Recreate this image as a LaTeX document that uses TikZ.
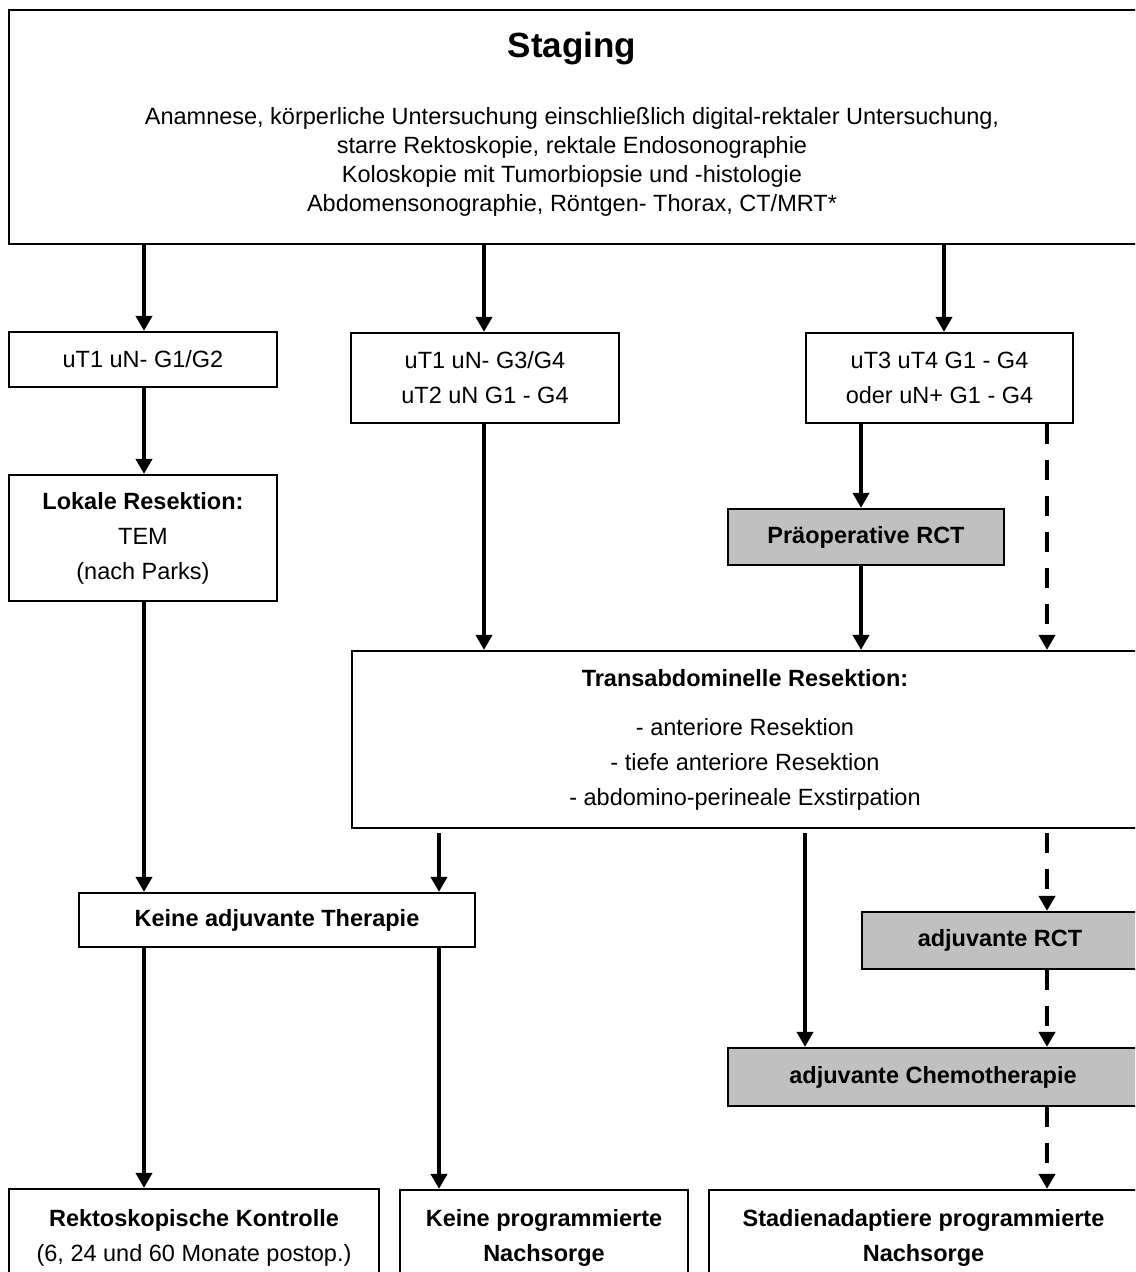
\documentclass[tikz,border=0pt]{standalone}
\usepackage{fontspec}
\setmainfont{Liberation Sans}
\usetikzlibrary{arrows.meta}
\definecolor{boxgrey}{RGB}{192,192,192}

\begin{document}
\begin{tikzpicture}[x=0.5pt, y=-0.5pt,
        font=\fontsize{11.75}{17.5}\selectfont,
        box/.style={draw, line width=1.1pt, align=center, inner sep=0pt},
        greybox/.style={box, fill=boxgrey, font=\fontsize{11.75}{17.5}\selectfont\bfseries},
        arr/.style={line width=2.2pt, -{Triangle[width=8pt,length=7.5pt]}},
        darr/.style={arr, dash pattern=on 10pt off 8pt}]
                \useasboundingbox (0,0) rectangle (1135,1272);
                \clip (0,0) rectangle (1135,1272);

                \coordinate (xa) at (144,0);
                \coordinate (xb) at (484,0);
                \coordinate (xc) at (944,0);
                \coordinate (xd) at (861,0);
                \coordinate (xe) at (1047,0);
                \coordinate (xf) at (439,0);
                \coordinate (xg) at (805,0);

                \node[box, minimum width=564.5pt, minimum height=117pt] (staging) at (573.5,127) {};
                \node[font=\fontsize{17.5}{20}\selectfont\bfseries] (stagingtitle) at (572,49) {Staging};
                \node[align=center, font=\fontsize{11.75}{14.5}\selectfont] (stagingtext) at (572,162)
                    {Anamnese, körperliche Untersuchung einschließlich digital-rektaler Untersuchung,\\
                     starre Rektoskopie, rektale Endosonographie\\
                     Koloskopie mit Tumorbiopsie und -histologie\\
                     Abdomensonographie, Röntgen- Thorax, CT/MRT*};

                \node[box, minimum width=134pt, minimum height=27.5pt] (g12) at (143,359.5) {uT1 uN- G1/G2};
                \node[box, minimum width=134pt, minimum height=45pt] (g34) at (485,378) {uT1 uN- G3/G4\\ uT2 uN G1 - G4};
                \node[box, minimum width=133.5pt, minimum height=45pt] (t34) at (939.5,378) {uT3 uT4 G1 - G4\\ oder uN+ G1 - G4};

                \node[box, minimum width=134pt, minimum height=63pt] (lokal) at (143,538)
                    {\textbf{Lokale Resektion:}\\ TEM\\ (nach Parks)};
                \node[greybox, minimum width=138pt, minimum height=28pt] (praeop) at (866,537) {Präoperative RCT};

                \node[box, minimum width=393pt, minimum height=88.5pt] (trans) at (745,739.5)
                    {\textbf{Transabdominelle Resektion:}\\[7pt]
                     - anteriore Resektion\\ - tiefe anteriore Resektion\\ - abdomino-perineale Exstirpation};

                \node[box, font=\fontsize{11.75}{17.5}\selectfont\bfseries, minimum width=198pt, minimum height=27pt] (keineadj) at (277,920) {Keine adjuvante Therapie};
                \node[greybox, minimum width=138pt, minimum height=28.5pt] (adjrct) at (1000,940.5) {adjuvante RCT};
                \node[greybox, minimum width=205pt, minimum height=29pt] (chemo) at (933,1077) {adjuvante Chemotherapie};

                \node[box, minimum width=185pt, minimum height=48.5pt] (rekto) at (194,1237.5)
                    {\textbf{Rektoskopische Kontrolle}\\ (6, 24 und 60 Monate postop.)};
                \node[box, font=\fontsize{11.75}{17.5}\selectfont\bfseries, minimum width=144pt, minimum height=48pt] (keineprog) at (544,1238)
                    {Keine programmierte\\ Nachsorge};
                \node[box, font=\fontsize{11.75}{17.5}\selectfont\bfseries, minimum width=214.5pt, minimum height=48pt] (stadien) at (923.5,1238)
                    {Stadienadaptiere programmierte\\ Nachsorge};

                \draw[arr] (staging.south -| xa) -- (g12.north -| xa);
                \draw[arr] (staging.south -| xb) -- (g34.north -| xb);
                \draw[arr] (staging.south -| xc) -- (t34.north -| xc);

                \draw[arr] (g12.south -| xa) -- (lokal.north -| xa);
                \draw[arr] (lokal.south -| xa) -- (keineadj.north -| xa);
                \draw[arr] (keineadj.south -| xa) -- (rekto.north -| xa);

                \draw[arr] (g34.south -| xb) -- (trans.north -| xb);

                \draw[arr] (t34.south -| xd) -- (praeop.north -| xd);
                \draw[arr] (praeop.south -| xd) -- (trans.north -| xd);
                \draw[darr] (t34.south -| xe) -- (trans.north -| xe);

                \draw[arr, shorten <=2pt] (trans.south -| xf) -- (keineadj.north -| xf);
                \draw[arr] (keineadj.south -| xf) -- (keineprog.north -| xf);

                \draw[arr, shorten <=2pt] (trans.south -| xg) -- (chemo.north -| xg);
                \draw[darr, shorten <=2pt] (trans.south -| xe) -- (adjrct.north -| xe);
                \draw[darr] (adjrct.south -| xe) -- (chemo.north -| xe);
                \draw[darr] (chemo.south -| xe) -- (stadien.north -| xe);
            \end{tikzpicture}
\end{document}
